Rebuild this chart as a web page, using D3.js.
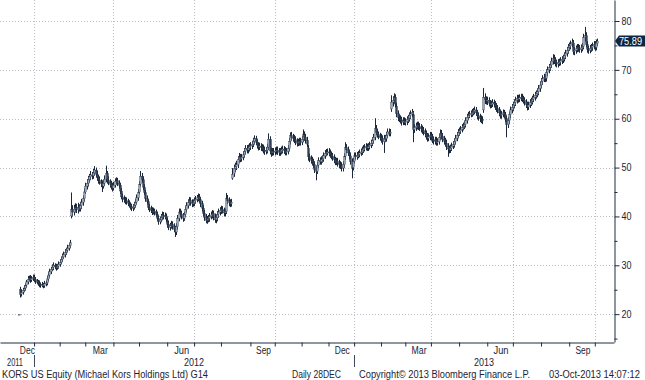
<!DOCTYPE html>
<html><head><meta charset="utf-8">
<script src="https://cdn.jsdelivr.net/npm/d3@7"></script>
<style>html,body{margin:0;padding:0;background:#fff;overflow:hidden}svg{display:block}</style>
</head><body><svg id="chart" width="645" height="380"></svg>
<script>
// ---- calendar (NYSE trading days) ----
const startDate = "2011-12-14", endDate = "2013-10-03";
const holidays = ["2011-12-26","2012-01-02","2012-01-16","2012-02-20","2012-04-06","2012-05-28","2012-07-04","2012-09-03","2012-10-29","2012-10-30","2012-11-22","2012-12-25","2013-01-01","2013-01-21","2013-02-18","2013-03-29","2013-05-27","2013-07-04","2013-09-02"];

// ---- daily prices (USD), one row per month ----
const opens = [
20,25.0,24.1,24.5,24.9,25.3,25.9,26.6,27.1,27.4,27.0,27.3,
27.5,27.1,26.8,26.5,26.3,26.1,25.9,26.0,25.8,26.2,26.4,27.2,28.0,28.7,29.2,29.6,30.0,29.7,29.5,29.8,
30.2,30.6,31.2,31.7,32.2,32.6,33.1,33.5,34.0,40.1,41.4,40.9,41.5,41.8,41.4,41.9,41.6,42.2,42.9,43.6,
45.0,46.2,46.8,47.5,48.1,48.5,48.3,48.9,49.5,48.6,47.9,47.4,47.0,46.7,46.2,46.8,47.6,48.8,47.4,47.0,46.6,46.1,
45.8,46.4,47.1,47.3,46.8,46.4,45.2,44.0,43.6,43.4,43.2,43.0,42.7,42.4,42.0,41.7,41.9,42.3,42.9,43.8,
45.0,46.6,48.2,47.5,46.0,44.9,43.6,43.0,41.8,41.5,41.2,40.9,41.1,40.8,40.4,39.6,38.9,39.3,39.8,40.3,40.0,40.1,
39.2,38.4,37.8,38.1,38.4,38.0,37.4,36.8,37.9,39.6,40.9,40.5,40.0,39.6,40.4,41.4,42.2,42.8,43.3,42.9,42.6,
42.8,43.2,43.5,43.8,44.0,43.4,42.6,41.7,40.6,39.8,39.2,39.4,39.6,40.0,40.3,40.6,39.9,39.3,39.7,40.4,40.9,
41.2,41.5,41.2,40.7,41.0,43.6,43.2,42.8,42.6,47.8,48.8,49.8,50.2,50.6,51.6,52.2,51.8,52.1,52.6,53.3,53.9,53.6,54.0,
54.3,54.5,54.8,55.4,55.9,55.2,54.6,54.2,54.4,54.1,54.0,53.6,53.3,53.5,54.2,55.8,53.4,53.0,53.3,
53.2,53.4,53.6,53.3,53.1,53.3,53.6,53.8,53.5,53.2,53.3,53.9,55.4,56.6,56.2,56.0,55.7,55.3,55.0,55.2,55.4,
55.2,55.8,56.7,56.2,55.6,54.0,52.2,51.8,51.5,51.1,50.6,49.6,49.2,50.5,51.4,51.2,51.6,51.8,52.4,52.9,53.1,
53.2,53.0,52.6,52.3,52.0,51.6,51.1,51.3,50.9,50.6,50.4,49.9,50.6,52.3,54.1,53.6,53.0,52.4,51.2,50.0,
51.3,52.4,52.2,52.5,52.7,53.0,53.2,53.6,53.9,54.1,54.3,54.0,54.3,54.6,55.0,55.5,56.2,58.0,57.2,56.7,56.4,
56.1,55.8,55.3,56.0,55.9,56.6,57.3,57.0,62.0,63.4,63.8,64.4,62.6,61.0,60.2,60.0,59.7,59.3,59.6,
59.4,59.4,59.8,60.1,60.6,61.0,60.8,57.8,58.2,58.5,58.7,58.4,58.2,57.9,57.6,57.3,56.9,56.4,56.0,56.3,
56.6,56.2,55.7,55.4,55.6,55.2,55.3,56.2,57.0,56.4,55.8,55.4,55.0,54.3,53.8,53.6,54.0,54.4,54.7,55.3,56.0,56.6,
57.2,57.5,57.8,58.2,58.5,58.8,59.6,60.3,60.7,60.9,61.0,61.3,61.5,61.8,61.2,60.6,60.3,60.0,59.8,61.8,64.4,63.9,
63.6,63.8,63.2,62.8,63.0,63.3,63.0,62.5,62.1,61.8,61.2,60.7,60.9,61.2,60.8,60.0,58.8,59.6,60.8,61.8,
62.3,62.8,63.3,63.8,64.2,64.0,64.3,64.4,64.1,63.8,63.4,62.9,62.4,62.8,63.3,63.6,64.0,64.4,64.8,65.1,65.5,66.2,
66.9,67.6,68.2,68.5,68.3,69.4,70.0,70.5,71.0,71.8,72.4,71.9,71.4,71.2,71.5,71.6,71.9,72.1,72.4,72.9,73.4,74.0,
74.6,74.9,75.3,75.5,73.8,74.0,74.3,74.6,74.4,74.2,74.5,74.8,76.6,77.0,75.2,74.2,74.0,74.4,74.6,74.9,
75.2,74.6,75.4];
const highs = [
20,25.6,25.1,25.4,25.9,26.3,27.0,27.8,27.9,28.0,27.8,28.1,
28.1,27.6,27.2,27.0,26.9,26.5,26.6,26.4,26.8,26.9,27.8,28.6,29.3,29.7,30.2,30.6,30.4,30.3,30.3,30.8,
31.2,31.8,32.4,32.8,33.3,33.6,34.2,34.5,35.2,44.9,42.3,42.4,42.7,42.6,42.8,42.5,43.0,43.6,44.3,45.8,
46.9,47.6,48.3,48.7,49.3,49.1,49.7,50.3,50.0,49.3,48.5,48.2,47.6,47.4,47.5,48.4,50.4,49.3,48.2,47.6,47.3,46.9,
47.1,47.8,48.0,47.9,47.4,46.9,45.8,44.7,44.3,44.0,43.9,43.6,43.3,42.9,42.6,42.5,43.0,43.6,44.5,45.6,
47.2,49.3,48.9,48.2,46.6,45.5,44.3,43.5,42.5,42.2,41.9,41.8,41.6,41.4,41.0,40.2,40.0,40.5,41.0,40.9,40.8,40.6,
39.8,39.1,38.7,39.1,39.0,38.6,38.1,38.6,40.3,41.6,41.6,41.2,40.7,41.0,42.1,42.9,43.5,44.0,43.9,43.5,43.5,
43.9,44.2,44.4,44.7,44.6,44.0,43.2,42.3,41.3,40.5,40.1,40.3,40.7,41.0,41.3,41.2,40.6,40.4,41.1,41.6,41.9,
42.2,42.1,41.8,41.6,44.8,44.4,43.9,43.5,43.6,49.9,50.6,51.0,51.4,52.3,53.0,52.8,52.8,53.3,54.0,54.6,54.6,54.7,55.0,
55.2,55.5,56.1,56.6,56.5,55.8,55.2,55.1,55.0,54.8,54.7,54.3,54.2,54.9,57.0,56.4,54.1,54.0,54.0,
54.1,54.3,54.3,54.0,54.0,54.3,54.5,54.4,54.2,54.0,54.6,56.1,57.2,57.3,56.9,56.7,56.4,56.0,55.9,56.1,56.1,
56.5,57.8,57.4,56.9,56.3,54.7,52.9,52.5,52.2,51.8,51.3,50.3,51.2,52.1,52.1,52.3,52.5,53.1,53.6,53.8,53.9,
54.0,53.7,53.3,53.0,52.7,52.2,52.0,52.0,51.6,51.3,51.1,51.3,52.9,55.2,54.8,54.3,53.7,53.1,51.9,52.0,
53.1,53.1,53.2,53.4,53.7,53.9,54.3,54.6,54.8,55.0,54.9,55.0,55.3,55.7,56.2,56.9,60.1,58.7,57.9,57.4,57.1,
56.9,56.6,56.7,56.7,57.3,58.0,58.0,57.9,64.8,64.6,65.2,65.0,63.3,61.7,60.9,60.7,60.4,60.3,60.3,
60.1,60.5,60.8,61.3,61.7,62.0,61.6,58.9,59.2,59.4,59.4,59.1,58.9,58.6,58.3,58.0,57.6,57.1,57.0,57.3,
57.3,56.9,56.4,56.3,56.3,56.0,56.9,57.8,57.7,57.1,56.5,56.1,55.7,55.0,54.5,54.7,55.1,55.4,56.0,56.7,57.3,57.9,
58.2,58.5,58.9,59.2,59.5,60.3,61.0,61.4,61.6,61.7,62.0,62.2,62.5,62.4,61.8,61.3,61.0,60.7,60.5,66.3,65.2,64.6,
64.5,64.4,63.8,63.7,64.0,63.9,63.6,63.2,62.8,62.4,61.9,61.6,61.9,61.8,61.4,60.6,60.3,61.5,62.5,63.0,
63.5,64.0,64.5,64.9,64.9,65.0,65.1,65.1,64.7,64.4,64.0,63.5,63.5,64.0,64.3,64.7,65.1,65.5,65.8,66.2,66.9,67.6,
68.3,68.9,69.2,69.2,70.1,70.7,71.2,71.7,72.5,73.2,73.1,72.6,72.1,72.2,72.3,72.6,72.8,73.1,73.6,74.1,74.7,75.3,
75.6,76.0,76.4,76.1,74.7,75.0,75.3,75.3,75.1,75.2,75.5,77.4,78.8,77.7,75.9,74.9,75.1,75.3,75.6,75.9,
75.9,76.2,76.4];
const lows = [
20,23.4,23.6,24.0,24.5,24.8,25.4,26.1,26.7,26.4,26.6,26.8,
26.6,26.2,26.1,25.8,25.5,25.4,25.5,25.3,25.4,25.7,25.9,26.7,27.5,28.2,28.8,29.0,29.2,28.9,29.1,29.3,
29.7,30.2,30.7,31.3,31.6,32.1,32.6,33.0,33.5,39.6,40.0,40.2,40.8,40.7,40.6,41.0,41.0,41.5,42.2,43.0,
44.6,45.5,46.1,46.9,47.4,47.6,47.7,48.3,48.0,47.3,46.7,46.5,46.0,45.0,45.7,46.2,47.0,46.7,46.4,45.9,45.5,45.1,
45.3,45.9,46.5,46.2,45.7,44.6,43.5,42.9,42.8,42.5,42.4,42.1,41.8,41.4,41.1,41.1,41.4,41.8,42.4,43.2,
44.5,46.1,46.9,45.4,44.4,43.0,42.4,41.3,40.9,40.7,40.3,40.4,40.2,39.9,39.1,38.3,38.4,38.8,39.2,39.4,39.4,38.8,
37.7,37.2,37.1,37.5,37.3,36.8,35.8,36.2,37.3,39.0,39.8,39.4,38.9,39.1,39.9,40.8,41.6,42.2,42.2,41.9,42.0,
42.1,42.6,42.9,43.1,42.8,41.9,41.0,40.0,39.1,38.6,38.5,38.8,38.9,39.4,39.6,39.2,38.7,38.6,39.0,39.7,40.2,
40.5,40.6,40.0,40.0,40.5,42.5,42.1,41.9,42.0,47.5,48.1,49.1,49.5,49.9,51.0,51.1,51.2,51.5,52.0,52.7,52.9,52.9,53.3,
53.6,53.8,54.2,54.7,54.6,53.9,53.5,53.6,53.4,53.3,52.9,52.6,52.7,52.9,53.6,52.7,52.2,52.4,52.5,
52.5,52.7,52.6,52.4,52.4,52.7,52.9,52.8,52.5,52.5,52.7,53.3,54.7,55.5,55.3,55.0,54.6,54.3,54.4,54.5,54.5,
54.6,55.2,55.5,54.9,54.1,51.4,51.1,50.8,50.4,49.9,48.9,47.4,48.7,49.9,50.6,50.6,51.0,51.2,51.8,52.3,52.5,
52.3,52.0,51.7,51.4,50.9,50.5,50.5,50.2,49.9,49.7,49.2,49.2,49.9,51.6,52.9,52.4,51.7,50.6,47.8,49.4,
50.8,51.6,51.6,51.9,52.1,52.4,52.6,53.0,53.3,53.5,53.4,53.4,53.7,54.0,54.4,54.9,55.6,56.6,56.1,55.8,55.5,
55.1,54.7,53.0,55.2,55.3,56.0,56.4,56.4,61.4,62.5,63.1,62.3,60.3,59.5,59.3,59.0,58.6,58.7,58.7,
58.6,58.7,59.1,59.4,59.9,60.3,55.2,57.1,57.5,57.8,57.7,57.5,57.2,56.9,56.6,56.2,55.7,55.3,55.4,55.6,
55.5,55.0,54.7,54.7,54.5,54.5,54.7,55.6,55.8,55.2,54.7,54.3,53.6,52.2,52.9,53.0,53.4,53.8,54.1,54.7,55.4,56.0,
56.5,56.9,57.2,57.6,57.9,58.2,59.0,59.7,60.1,60.3,60.4,60.7,60.9,60.6,59.9,59.6,59.3,59.1,58.9,61.2,63.0,62.9,
62.8,62.5,62.1,62.2,62.4,62.3,61.8,61.4,61.1,60.5,60.0,60.0,60.3,60.1,59.3,56.2,58.1,58.9,60.1,61.1,
61.6,62.1,62.6,63.1,63.3,63.4,63.6,63.4,63.1,62.7,62.2,61.7,61.8,62.2,62.6,62.9,63.4,63.7,64.1,64.4,64.8,65.5,
66.2,66.9,67.5,67.5,67.6,68.7,69.3,69.8,70.4,71.1,71.2,70.7,70.5,70.5,70.8,70.9,71.2,71.4,71.7,72.2,72.7,73.3,
73.9,74.2,74.6,73.1,73.0,73.3,73.6,73.7,73.5,73.5,73.8,74.2,75.8,74.6,73.5,73.3,73.4,73.7,73.9,74.2,
73.9,74.0,74.9];
const closes = [
20,24.0,24.4,24.9,25.2,25.8,26.6,27.1,27.4,27.0,27.3,27.5,
27.1,26.8,26.5,26.3,26.1,25.9,26.0,25.8,26.2,26.4,27.2,28.0,28.7,29.2,29.6,30.0,29.7,29.5,29.8,30.2,
30.6,31.2,31.7,32.2,32.6,33.1,33.5,34.0,34.6,41.4,40.9,41.5,41.8,41.4,41.9,41.6,42.2,42.9,43.6,45.0,
46.2,46.8,47.5,48.1,48.5,48.3,48.9,49.5,48.6,47.9,47.4,47.0,46.7,46.2,46.8,47.6,48.8,47.4,47.0,46.6,46.1,45.8,
46.4,47.1,47.3,46.8,46.4,45.2,44.0,43.6,43.4,43.2,43.0,42.7,42.4,42.0,41.7,41.9,42.3,42.9,43.8,44.9,
46.5,48.2,47.6,46.0,44.9,43.6,43.0,41.8,41.5,41.2,40.9,41.1,40.8,40.4,39.6,38.9,39.3,39.8,40.3,40.0,40.1,39.5,
38.4,37.8,38.1,38.4,38.0,37.4,36.8,37.9,39.6,40.9,40.5,40.0,39.6,40.4,41.4,42.2,42.8,43.3,42.9,42.6,42.8,
43.2,43.5,43.8,44.0,43.4,42.6,41.7,40.6,39.8,39.2,39.4,39.6,40.0,40.3,40.6,39.9,39.3,39.7,40.4,40.9,41.2,
41.5,41.2,40.7,40.9,43.6,43.2,42.8,42.6,42.9,48.6,49.8,50.2,50.6,51.6,52.2,51.8,52.1,52.6,53.3,53.9,53.6,54.0,54.3,
54.5,54.8,55.4,55.9,55.2,54.6,54.2,54.4,54.1,54.0,53.6,53.3,53.5,54.2,55.8,53.4,53.0,53.3,53.2,
53.4,53.6,53.3,53.1,53.3,53.6,53.8,53.5,53.2,53.3,53.9,55.4,56.6,56.2,56.0,55.7,55.3,55.0,55.2,55.4,55.2,
55.8,56.7,56.2,55.6,54.8,52.2,51.8,51.5,51.1,50.6,49.6,49.2,50.5,51.4,51.2,51.6,51.8,52.4,52.9,53.1,53.2,
53.0,52.6,52.3,52.0,51.6,51.1,51.3,50.9,50.6,50.4,49.9,50.6,52.2,54.1,53.6,53.0,52.4,51.2,49.9,51.3,
52.4,52.2,52.5,52.7,53.0,53.2,53.6,53.9,54.1,54.3,54.0,54.3,54.6,55.0,55.5,56.2,58.0,57.2,56.7,56.4,56.1,
55.8,55.3,56.0,55.9,56.6,57.3,57.0,57.2,63.4,63.8,64.4,63.0,61.0,60.2,60.0,59.7,59.3,59.6,59.4,
59.4,59.8,60.1,60.6,61.0,61.3,57.8,58.2,58.5,58.7,58.4,58.2,57.9,57.6,57.3,56.9,56.4,56.0,56.3,56.6,
56.2,55.7,55.4,55.6,55.2,55.3,56.2,57.0,56.4,55.8,55.4,55.0,54.3,53.8,53.6,54.0,54.4,54.7,55.3,56.0,56.6,57.2,
57.5,57.8,58.2,58.5,58.8,59.6,60.3,60.7,60.9,61.0,61.3,61.5,61.8,61.2,60.6,60.3,60.0,59.8,59.6,64.4,63.9,63.6,
63.8,63.2,62.8,63.0,63.3,63.0,62.5,62.1,61.8,61.2,60.7,60.9,61.2,60.8,60.0,58.8,59.6,60.8,61.8,62.3,
62.8,63.3,63.8,64.2,64.0,64.3,64.4,64.1,63.8,63.4,62.9,62.4,62.8,63.3,63.6,64.0,64.4,64.8,65.1,65.5,66.2,66.9,
67.6,68.2,68.5,68.3,69.4,70.0,70.5,71.0,71.8,72.4,71.9,71.4,71.2,71.5,71.6,71.9,72.1,72.4,72.9,73.4,74.0,74.6,
74.9,75.3,75.6,73.8,74.0,74.3,74.6,74.4,74.2,74.5,74.8,76.6,77.0,75.2,74.2,74.0,74.4,74.6,74.9,75.2,
74.6,75.5,75.89];

// ---- axis labels ----
const yTicks = [20,30,40,50,60,70,80];
const yMinorTicks = [15,25,35,45,55,65,75];
const xLabelMonths = ["2011-12","2012-03","2012-06","2012-09","2012-12","2013-03","2013-06","2013-09"];
const xLabels = ["Dec","Mar","Jun","Sep","Dec","Mar","Jun","Sep"];
const years = ["2011","2012","2013"];
const lastLabel = "75.89";
const footerTexts = ["KORS US Equity (Michael Kors Holdings Ltd) G14","Daily 28DEC","Copyright\u00A9 2013 Bloomberg Finance L.P.","03-Oct-2013 14:07:12"];

// ---- build ----
const fmtDay = d3.utcFormat("%Y-%m-%d"), fmtMonth = d3.utcFormat("%Y-%m"), fmtYear = d3.utcFormat("%Y");
const hol = new Set(holidays);
const days = d3.utcDay.range(d3.utcParse("%Y-%m-%d")(startDate), d3.utcDay.offset(d3.utcParse("%Y-%m-%d")(endDate), 1))
  .filter(d => d.getUTCDay() % 6 !== 0 && !hol.has(fmtDay(d)));
const n = Math.min(days.length, closes.length);
const data = d3.range(n).map(i => ({i, d: days[i], o: opens[i], h: highs[i], l: lows[i], c: closes[i]}));

const W = 645, H = 380, plotR = 614, plotB = 342;
const FONT = "'Liberation Sans',Arial,sans-serif";
const TXT = "#1b2433", AX = "#1f2d3f";

const x = d3.scaleLinear().domain([-14.6, 465]).range([0, plotR]);
const y = d3.scaleLinear().domain([14.3, 84.3]).range([plotB, 0]);

const svg = d3.select("#chart");
svg.append("rect").attr("width", W).attr("height", H).attr("fill", "#fff");

// month starts
const monthFirst = new Map();
data.forEach(r => { const k = fmtMonth(r.d); if (!monthFirst.has(k)) monthFirst.set(k, r.i); });
const monthKeys = Array.from(monthFirst.keys());
const monthTickIdx = monthKeys.slice(1).map(k => monthFirst.get(k));
const quarterIdx = monthKeys.filter(k => ["01","04","07","10"].includes(k.slice(5))).map(k => monthFirst.get(k));
const yearFirst = new Map();
data.forEach(r => { const k = fmtYear(r.d); if (!yearFirst.has(k)) yearFirst.set(k, r.i); });

// grid
const grid = svg.append("g").attr("stroke", "#b9bec6").attr("stroke-width", 1).attr("stroke-dasharray", "1,2");
grid.selectAll("line.h").data(yTicks).join("line")
  .attr("x1", 0).attr("x2", plotR).attr("y1", d => Math.round(y(d)) + 0.5).attr("y2", d => Math.round(y(d)) + 0.5);
grid.selectAll("line.v").data(quarterIdx).join("line")
  .attr("x1", d => Math.round(x(d)) + 0.5).attr("x2", d => Math.round(x(d)) + 0.5).attr("y1", 0).attr("y2", plotB);

// candles
const cg = svg.append("g");
cg.selectAll("line").data(data).join("line")
  .attr("x1", d => Math.round(x(d.i)) + 0.5).attr("x2", d => Math.round(x(d.i)) + 0.5)
  .attr("y1", d => y(d.h)).attr("y2", d => y(d.l))
  .attr("stroke", "#1c2838").attr("stroke-width", 1);
cg.selectAll("rect").data(data).join("rect")
  .attr("x", d => Math.round(x(d.i)) - 0.5).attr("width", 2)
  .attr("y", d => y(Math.max(d.o, d.c)))
  .attr("height", d => Math.max(1, Math.abs(y(d.o) - y(d.c))))
  .attr("fill", d => d.c >= d.o ? "#9ba8bb" : "#34435a")
  .attr("stroke", "#1c2838").attr("stroke-width", 0.3);

// y axis (right)
const yAx = svg.append("g").attr("transform", `translate(${plotR + 0.5},0)`)
  .call(d3.axisRight(y).tickValues(yTicks).tickSize(5).tickSizeOuter(0).tickPadding(2).tickFormat(d3.format("d")));
yAx.select(".domain").attr("stroke", AX);
yAx.selectAll(".tick line").attr("stroke", AX);
yAx.selectAll(".tick text").attr("fill", TXT).attr("font-family", FONT).attr("font-size", 10)
  .attr("textLength", 10).attr("lengthAdjust", "spacingAndGlyphs");
const yMin = svg.append("g").attr("transform", `translate(${plotR + 0.5},0)`)
  .call(d3.axisRight(y).tickValues(yMinorTicks).tickSize(3).tickSizeOuter(0).tickFormat(""));
yMin.select(".domain").remove();
yMin.selectAll(".tick line").attr("stroke", AX);

// x axis (bottom)
const xAx = svg.append("g").attr("transform", `translate(0,${plotB + 0.5})`)
  .call(d3.axisBottom(x).tickValues(monthTickIdx).tickSize(4).tickSizeOuter(0).tickFormat(""));
xAx.select(".domain").attr("stroke", AX);
xAx.selectAll(".tick line").attr("stroke", AX);

// month labels
const mg = svg.append("g").attr("font-family", FONT).attr("font-size", 10).attr("fill", TXT).attr("text-anchor", "middle");
xLabelMonths.forEach((m, k) => {
  const ki = monthKeys.indexOf(m);
  const a = x(monthFirst.get(m));
  const b = ki + 1 < monthKeys.length ? x(monthFirst.get(monthKeys[ki + 1])) : plotR;
  mg.append("text").attr("x", (a + b) / 2 + 1).attr("y", 354)
    .attr("textLength", 15).attr("lengthAdjust", "spacingAndGlyphs").text(xLabels[k]);
});

// years
const yg = svg.append("g").attr("font-family", FONT).attr("font-size", 10).attr("fill", TXT);
years.forEach((yr, k) => {
  const a = x(yearFirst.get(yr));
  const nxt = years[k + 1];
  const b = nxt ? x(yearFirst.get(nxt)) : plotR;
  if (k === 0) {
    yg.append("text").attr("x", 7).attr("y", 365.5).attr("textLength", 16)
      .attr("lengthAdjust", "spacingAndGlyphs").text(yr);
  } else {
    yg.append("text").attr("x", (a + b) / 2 - 10).attr("y", 365.5).attr("textLength", 20)
      .attr("lengthAdjust", "spacingAndGlyphs").text(yr);
  }
  if (k > 0) {
    svg.append("line").attr("x1", Math.round(a) + 0.5).attr("x2", Math.round(a) + 0.5)
      .attr("y1", 355).attr("y2", 367).attr("stroke", "#3c4a5c").attr("stroke-width", 1);
  }
});

// last value label
const last = data[data.length - 1];
const ly = y(last.c);
svg.append("path")
  .attr("d", `M${plotR + 1},${ly} L${plotR + 5},${ly - 5.5} L${W},${ly - 5.5} L${W},${ly + 5.5} L${plotR + 5},${ly + 5.5} Z`)
  .attr("fill", "#0f2540");
svg.append("text").attr("x", 619).attr("y", ly + 3.8).attr("fill", "#fff")
  .attr("font-family", FONT).attr("font-size", 10)
  .attr("textLength", 23).attr("lengthAdjust", "spacingAndGlyphs").text(lastLabel);

// footer
const fx = [2, 292, 359, 549], fw = [206, 49, 171, 91];
const fg = svg.append("g").attr("font-family", FONT).attr("font-size", 10).attr("fill", TXT);
footerTexts.forEach((t, k) => {
  fg.append("text").attr("x", fx[k]).attr("y", 377.5).attr("textLength", fw[k])
    .attr("lengthAdjust", "spacingAndGlyphs").text(t);
});
</script>
</body></html>
